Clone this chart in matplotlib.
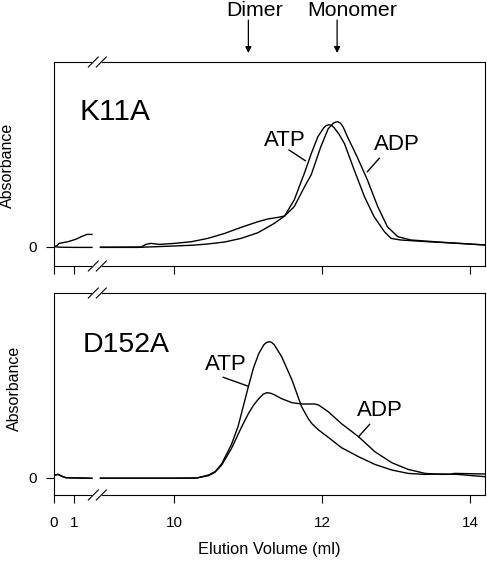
import numpy as np
import matplotlib
matplotlib.use('Agg')
import matplotlib.pyplot as plt

plt.rcParams['font.family'] = ['Liberation Sans', 'DejaVu Sans']

# K11A, early fractions (0-2 ml) and main run (9-14.2 ml), absorbance in arbitrary units
k11a_atp_early_x = [0, 0.3, 1.0, 1.9]
k11a_atp_early_y = [0, -0.5, -0.7, -0.7]
k11a_adp_early_x = [0, 0.15, 0.25, 0.7, 1.1, 1.4, 1.65, 1.9]
k11a_adp_early_y = [0, 1.0, 3.3, 5.0, 7.5, 10.3, 12.3, 12.3]

k11a_atp_x = [9.0, 9.5, 10.0, 10.25, 10.45, 10.68, 10.9, 11.13, 11.35, 11.49, 11.62,
              11.76, 11.85, 11.94, 12.02, 12.055, 12.09, 12.125, 12.16, 12.23, 12.3,
              12.43, 12.57, 12.7, 12.84, 12.93, 13.06, 13.42, 13.8, 14.2]
k11a_atp_y = [-0.7, -0.7, 0.7, 1.5, 2.7, 4.7, 8.3, 14, 23.3, 30.7, 46.7,
              74, 93, 110, 119, 121.2, 122, 121.3, 119, 112, 103,
              77, 50, 30, 15, 8.3, 6.7, 5, 3.5, 1.7]
k11a_adp_x = [9.0, 9.55, 9.62, 9.68, 9.8, 10.0, 10.23, 10.45, 10.68, 10.9, 11.13,
              11.26, 11.4, 11.49, 11.62, 11.76, 11.85, 11.98, 12.08, 12.15, 12.18,
              12.21, 12.245, 12.28, 12.34, 12.47, 12.61, 12.75, 12.88, 13.02, 13.2,
              13.65, 14.2]
k11a_adp_y = [-0.5, -0.3, 2.5, 3.3, 2.3, 3.3, 5, 8.3, 13.3, 19.3, 25,
              27.7, 29.3, 30.7, 40, 60, 72, 100, 118, 123.5, 124.6,
              125, 123.5, 120, 110, 90, 66.7, 40, 20, 10, 6.7,
              4.3, 1.7]

# D152A
d152a_atp_early_x = [0, 0.05, 0.2, 0.45, 0.6, 1.9]
d152a_atp_early_y = [2.0, 2.7, 3.4, 1.0, 0, -0.6]
d152a_adp_early_x = [0, 0.05, 0.2, 0.45, 0.6, 1.9]
d152a_adp_early_y = [2.0, 2.6, 3.2, 0.9, 0, -0.6]

d152a_atp_x = [9.0, 10.0, 10.3, 10.46, 10.55, 10.64, 10.77, 10.86, 11.0, 11.07, 11.14,
               11.21, 11.245, 11.28, 11.315, 11.35, 11.45, 11.59, 11.72, 11.81, 11.86,
               11.95, 12.04, 12.26, 12.49, 12.71, 12.94, 13.16, 13.39, 13.61, 13.83, 14.2]
d152a_atp_y = [-0.5, -0.5, -0.3, 2.7, 6, 14, 33, 51, 91, 110, 124,
               133, 135.2, 136, 135.3, 133, 121, 97.7, 71, 59, 54,
               47.7, 42.7, 30, 21, 13.3, 7.7, 4.3, 3.3, 3.7, 3.3, 1]
d152a_adp_x = [9.0, 10.0, 10.3, 10.46, 10.55, 10.64, 10.77, 10.91, 11.0, 11.07, 11.14,
               11.2, 11.25, 11.3, 11.35, 11.45, 11.59, 11.72, 11.9, 11.95, 12.08, 12.26,
               12.49, 12.71, 12.94, 13.16, 13.39, 13.61, 13.72, 13.79, 14.2]
d152a_adp_y = [-0.5, -0.5, -0.3, 2, 5.5, 12.7, 29, 51, 64, 72.5, 79,
               83.5, 85, 84.5, 83, 79, 75, 73.7, 73.7, 72.7, 66, 54,
               41, 26, 15, 8.3, 4.3, 3.3, 3.4, 4.3, 3.7]

xticks = [0, 1, 10, 12, 14]

# broken x axis: 0-1.9 ml squeezed, 9-14.2 ml full scale
XB = [-20, 0, 1.9, 9.0, 10, 40]
UB = [-400, 0, 38, 46.5, 120.5, 2340.5]


def fwd(x):
    return np.interp(x, XB, UB)


def inv(u):
    return np.interp(u, UB, XB)


def setup(ax, ylo, show_xlabels):
    ax.set_xscale('function', functions=(fwd, inv))
    ax.set_xlim(0, 14.2)
    ax.set_ylim(ylo, 184.7)
    ax.set_xticks(xticks)
    ax.set_yticks([0])
    ax.set_yticklabels(['0'])
    if show_xlabels:
        ax.set_xticklabels([str(t) for t in xticks])
    else:
        ax.set_xticklabels([])
    ax.tick_params(direction='out', length=5.8, width=0.8, labelsize=11, colors='black')
    ax.tick_params(axis='x', pad=9)
    ax.tick_params(axis='y', pad=6.5)
    for s in ax.spines.values():
        s.set_linewidth(0.8)
    # axis break marks on top and bottom spines
    w = 431.0
    h = ax.get_position().height * 561
    for yy in (0, 1):
        ax.plot([(93.3 - 54) / w, (101.3 - 54) / w], [yy, yy], color='white', lw=1.5,
                transform=ax.transAxes, clip_on=False, zorder=5)
        for cx in (93.3, 101.3):
            c = (cx - 54) / w
            ax.plot([c - 5 / w, c + 5 / w], [yy - 5 / h, yy + 5 / h], color='black', lw=0.8,
                    transform=ax.transAxes, clip_on=False, zorder=6)


def main():
    fig = plt.figure(figsize=(4.87, 5.61), dpi=100)
    ax1 = fig.add_axes([54 / 487, 295 / 561, 431 / 487, 204 / 561])
    ax2 = fig.add_axes([54 / 487, 66 / 561, 431 / 487, 202 / 561])

    kw = dict(color='black', lw=1.0)

    # K11A
    ax1.plot(k11a_atp_early_x, k11a_atp_early_y, **kw)
    ax1.plot(k11a_adp_early_x, k11a_adp_early_y, **kw)
    ax1.plot(k11a_atp_x, k11a_atp_y, **kw)
    ax1.plot(k11a_adp_x, k11a_adp_y, **kw)
    setup(ax1, -19.3, False)
    ax1.set_ylabel('Absorbance', fontsize=11.5)
    ax1.yaxis.set_label_coords(-0.0905, 0.495)
    ax1.text(0.06, 0.755, 'K11A', fontsize=21.5, transform=ax1.transAxes, va='center')
    ax1.text(11.49, 105.7, 'ATP', fontsize=16, ha='center', va='center')
    ax1.plot([11.55, 11.77], [96.7, 86], **kw)
    ax1.text(13.01, 101.7, 'ADP', fontsize=16, ha='center', va='center')
    ax1.plot([12.77, 12.61], [88.4, 75], **kw)

    # markers for dimer / monomer elution positions
    tr = ax1.get_xaxis_transform()
    for xpos, xt, name in ((11.0, 11.08, 'Dimer'), (12.2, 12.4, 'Monomer')):
        ax1.annotate('', xy=(xpos, 1.044), xytext=(xpos, 1.206), xycoords=tr, textcoords=tr,
                     arrowprops=dict(arrowstyle='-|>', color='black', lw=0.9,
                                     mutation_scale=9, shrinkA=0, shrinkB=0))
        ax1.text(xt, 1.25, name, transform=tr, fontsize=15.3, ha='center', va='center')

    # D152A
    ax2.plot(d152a_atp_early_x, d152a_atp_early_y, **kw)
    ax2.plot(d152a_adp_early_x, d152a_adp_early_y, **kw)
    ax2.plot(d152a_atp_x, d152a_atp_y, **kw)
    ax2.plot(d152a_adp_x, d152a_adp_y, **kw)
    setup(ax2, -17.3, True)
    ax2.set_ylabel('Absorbance', fontsize=11.5)
    ax2.yaxis.set_label_coords(-0.075, 0.53)
    ax2.set_xlabel('Elution Volume (ml)', fontsize=11.8, labelpad=9)
    ax2.text(0.067, 0.743, 'D152A', fontsize=20.5, transform=ax2.transAxes, va='center')
    ax2.text(10.70, 113.7, 'ATP', fontsize=16, ha='center', va='center')
    ax2.plot([10.66, 10.99], [100.4, 91.7], **kw)
    ax2.text(12.78, 67.7, 'ADP', fontsize=16, ha='center', va='center')
    ax2.plot([12.64, 12.49], [53.4, 41], **kw)

    fig.savefig('out.png', dpi=100)


if __name__ == '__main__':
    main()
